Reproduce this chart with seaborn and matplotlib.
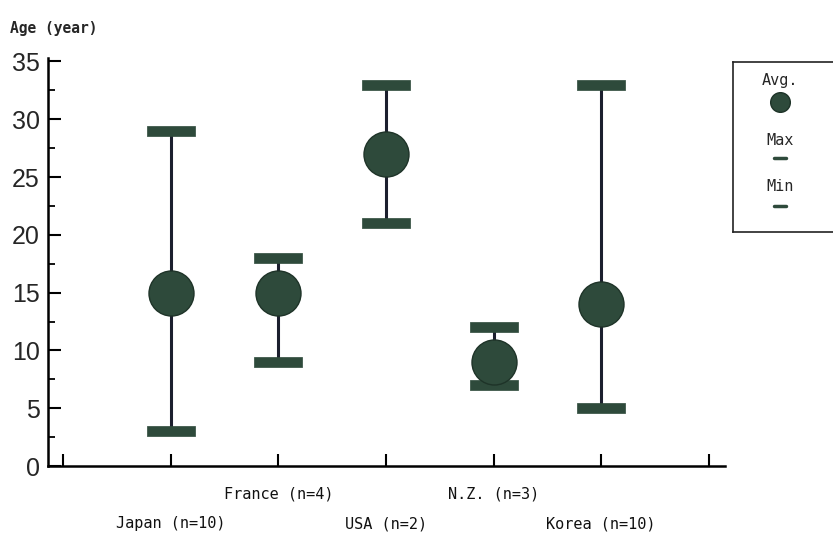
import numpy as np
import matplotlib
matplotlib.use("Agg")
import matplotlib.pyplot as plt
import pandas as pd
import seaborn as sns

# values
countries = ["Japan (n=10)", "France (n=4)", "USA (n=2)", "N.Z. (n=3)", "Korea (n=10)"]
positions = [1, 2, 3, 4, 5]
avg_age = [15, 15, 27, 9, 14]
max_age = [29, 18, 33, 12, 33]
min_age = [3, 9, 21, 7, 5]

df = pd.DataFrame({"pos": positions, "country": countries,
                   "Avg.": avg_age, "Max": max_age, "Min": min_age})

sns.set_style("white")
plt.rcParams["font.family"] = ["DejaVu Sans Mono", "DejaVu Sans"]

green = "#2e4a3b"
line_col = "#1c1f2e"
cap = [(-2.4, -0.5), (2.4, -0.5), (2.4, 0.5), (-2.4, 0.5), (-2.4, -0.5)]

fig = plt.figure(figsize=(8.33, 5.33), dpi=100)
ax = fig.add_axes([48 / 833, 67 / 533, (725 - 48) / 833, (466 - 58) / 533])

ax.vlines(df["pos"], df["Min"], df["Max"], color=line_col, lw=2.2, zorder=1)
sns.scatterplot(data=df, x="pos", y="Max", marker=cap, s=1200, color=green,
                edgecolor=green, linewidth=0.5, ax=ax, zorder=2)
sns.scatterplot(data=df, x="pos", y="Min", marker=cap, s=1200, color=green,
                edgecolor=green, linewidth=0.5, ax=ax, zorder=2)
sns.scatterplot(data=df, x="pos", y="Avg.", marker="o", s=1050, color=green,
                edgecolor="#1e3328", linewidth=1, ax=ax, zorder=3)

ax.set_xlim(-0.14, 6.15)
ax.set_ylim(0, 35.3)
ax.set_xticks(range(0, 7))
ax.set_xticklabels([])
ax.set_yticks(range(0, 36, 5))
ax.set_yticks(np.arange(2.5, 35, 5), minor=True)
ax.tick_params(axis="both", which="major", direction="in", length=9, width=1.5,
               color="black", left=True, bottom=True)
ax.tick_params(axis="y", which="minor", direction="in", length=5, width=1.3,
               color="black", left=True)
ax.tick_params(axis="y", labelsize=17, pad=6)
for t in ax.get_yticklabels():
    t.set_family(["Liberation Sans", "DejaVu Sans"])
    t.set_fontsize(18)
sns.despine(ax=ax)
for s in ["left", "bottom"]:
    ax.spines[s].set_color("black")
    ax.spines[s].set_linewidth(1.8)
ax.set_xlabel("")
ax.set_ylabel("")

# category labels, alternating rows
for i, (p, name) in enumerate(zip(df["pos"], df["country"])):
    y = -0.069 if i % 2 == 1 else -0.142
    ax.text(p, y, name, transform=ax.get_xaxis_transform(), ha="center",
            va="center", fontsize=11, color="#111111")

fig.text(10 / 833, 1 - 28 / 533, "Age (year)", fontsize=10.5, fontweight="bold",
         va="center", ha="left")

# legend box at the right edge
lax = fig.add_axes([733 / 833, 1 - 232 / 533, 110 / 833, 170 / 533])
lax.set_xlim(0, 110)
lax.set_ylim(170, 0)
lax.set_xticks([])
lax.set_yticks([])
for s in lax.spines.values():
    s.set_color("#222222")
    s.set_linewidth(1.2)
lax.text(47, 18, "Avg.", ha="center", va="center", fontsize=11)
lax.scatter([47], [40], s=200, color=green, edgecolor="#1e3328")
lax.text(47, 78, "Max", ha="center", va="center", fontsize=11)
lax.plot([41, 53], [96, 96], color=green, lw=2.5)
lax.text(47, 124, "Min", ha="center", va="center", fontsize=11)
lax.plot([41, 53], [144, 144], color=green, lw=2.5)

fig.savefig("out.png", dpi=100)
